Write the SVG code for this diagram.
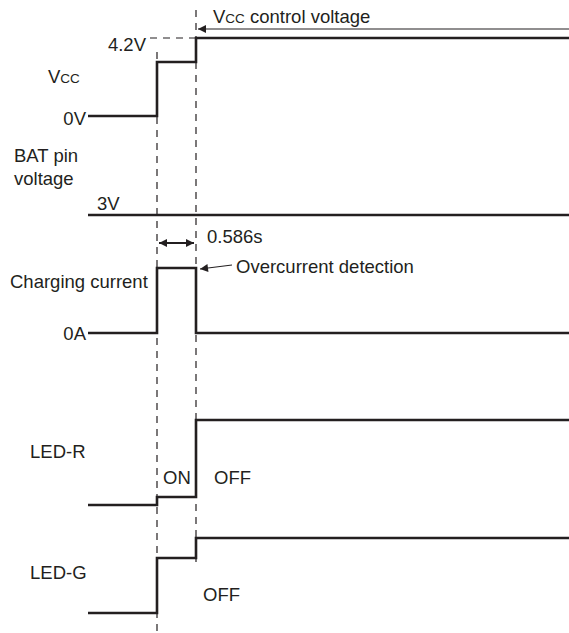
<svg xmlns="http://www.w3.org/2000/svg" width="569" height="633" viewBox="0 0 569 633">
<style>
text{font-family:"Liberation Sans",Arial,sans-serif;font-size:18.5px;fill:#231f20}
.sub{font-size:13.5px}
.sig{fill:none;stroke:#231f20;stroke-width:2.6}
.dash{fill:none;stroke:#231f20;stroke-width:1.2;stroke-dasharray:7,6}
.thin{fill:none;stroke:#231f20;stroke-width:1.2}
.dim{fill:none;stroke:#231f20;stroke-width:1.8}
</style>
<defs>
<marker id="ah" viewBox="0 0 10 10" refX="10" refY="5" markerWidth="10" markerHeight="8" markerUnits="userSpaceOnUse" orient="auto-start-reverse">
<path d="M0,0 L10,5 L0,10 z" fill="#231f20"/>
</marker>
</defs>
<rect width="569" height="633" fill="#fff"/>
<g id="connectors">
<line class="dash" x1="157" y1="52" x2="157" y2="633"/>
<line class="dash" x1="196" y1="10" x2="196" y2="562"/>
<line class="dash" x1="150" y1="38" x2="196" y2="38"/>
<line class="thin" x1="569" y1="29" x2="198" y2="29" marker-end="url(#ah)"/>
<line class="dim" x1="159" y1="243" x2="194" y2="243" marker-start="url(#ah)" marker-end="url(#ah)"/>
<line class="thin" x1="232" y1="265" x2="200" y2="269" marker-end="url(#ah)"/>
</g>
<g id="vcc">
<polyline class="sig" points="88,116 157,116 157,62 196,62 196,38 569,38"/>
<text x="48" y="83">V<tspan class="sub">CC</tspan></text>
<text x="146" y="51" text-anchor="end">4.2V</text>
<text x="86" y="125" text-anchor="end">0V</text>
<text x="213" y="23">V<tspan class="sub">CC</tspan> control voltage</text>
</g>
<g id="bat">
<line class="sig" x1="88" y1="215" x2="569" y2="215"/>
<text x="14" y="162">BAT pin</text>
<text x="14" y="185">voltage</text>
<text x="97" y="210">3V</text>
<text x="207" y="243">0.586s</text>
</g>
<g id="current">
<polyline class="sig" points="88,333 157,333 157,268 196,268 196,333 569,333"/>
<text x="10" y="288">Charging current</text>
<text x="86" y="340" text-anchor="end">0A</text>
<text x="236" y="273">Overcurrent detection</text>
</g>
<g id="ledr">
<polyline class="sig" points="88,505 157,505 157,497 196,497 196,420 569,420"/>
<text x="30" y="458">LED-R</text>
<text x="163" y="484">ON</text>
<text x="214" y="484">OFF</text>
</g>
<g id="ledg">
<polyline class="sig" points="88,613 157,613 157,558 196,558 196,538 569,538"/>
<text x="30" y="579">LED-G</text>
<text x="203" y="601">OFF</text>
</g>
</svg>
